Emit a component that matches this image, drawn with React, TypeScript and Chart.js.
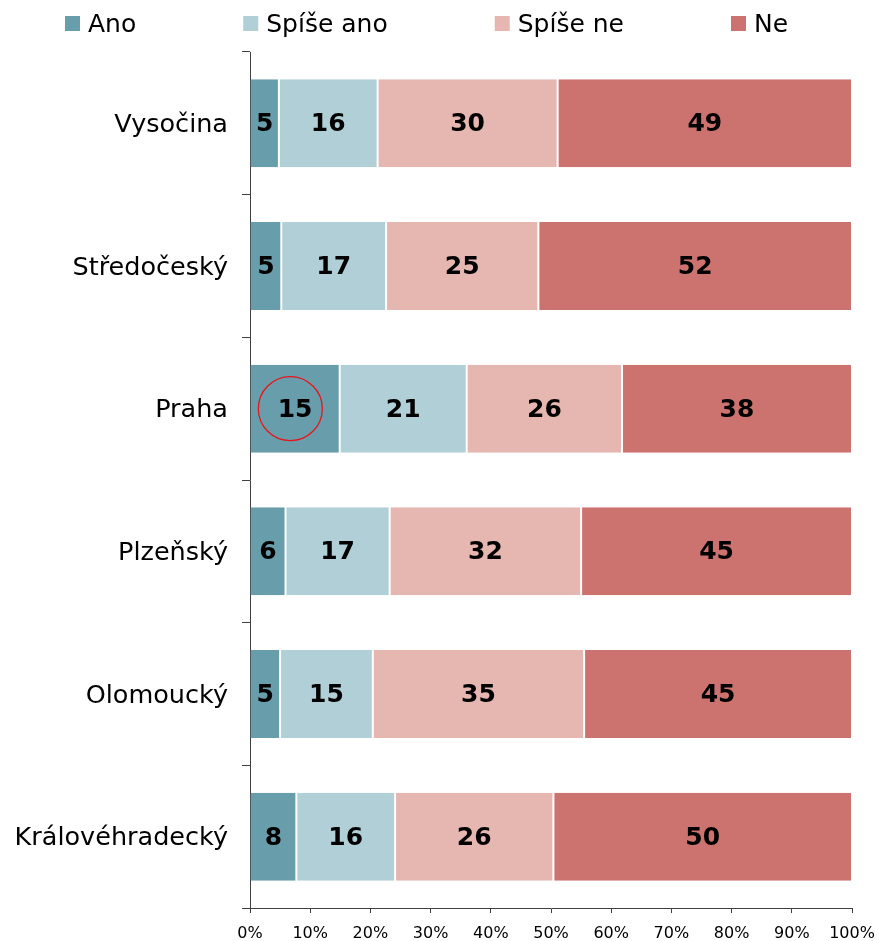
import React, { useEffect, useRef } from 'react';
import { Chart, registerables } from 'chart.js';

Chart.register(...registerables);

const categories = ['Vysočina', 'Středočeský', 'Praha', 'Plzeňský', 'Olomoucký', 'Královéhradecký'];
const seriesNames = ['Ano', 'Spíše ano', 'Spíše ne', 'Ne'];
const ano = [4.8, 5.2, 14.9, 5.9, 5.0, 7.7];
const spiseAno = [16.4, 17.4, 21.1, 17.3, 15.4, 16.4];
const spiseNe = [29.9, 25.3, 25.8, 31.8, 35.1, 26.3];
const ne = [48.9, 52.1, 38.2, 45.0, 44.5, 49.6];
const seriesColors = ['#689EAB', '#B0CFD6', '#E6B6B0', '#CC736F'];
const xMin = 0;
const xMax = 100;
const xStep = 10;
const highlightCategory = 'Praha';
const highlightValue = 6.7;

const FONT = '"DejaVu Sans", Verdana, sans-serif';

const legendPlugin = {
  id: 'customLegend',
  afterDraw(chart: any) {
    const ctx = chart.ctx;
    ctx.save();
    ctx.font = `25px ${FONT}`;
    ctx.textBaseline = 'middle';
    ctx.textAlign = 'left';
    let x = 65;
    chart.data.datasets.forEach((ds: any) => {
      ctx.fillStyle = ds.backgroundColor;
      ctx.fillRect(x, 16, 15, 15);
      ctx.fillStyle = '#000';
      ctx.fillText(ds.label, x + 23, 25);
      x += 23 + ctx.measureText(ds.label).width + 107;
    });
    ctx.restore();
  },
};

const valueLabelPlugin = {
  id: 'valueLabels',
  afterDatasetsDraw(chart: any) {
    const ctx = chart.ctx;
    ctx.save();
    ctx.font = `bold 25px ${FONT}`;
    ctx.fillStyle = '#000';
    ctx.textAlign = 'center';
    ctx.textBaseline = 'middle';
    chart.data.datasets.forEach((ds: any, i: number) => {
      const meta = chart.getDatasetMeta(i);
      meta.data.forEach((el: any, j: number) => {
        const v = ds.data[j];
        const cx = (el.x + el.base) / 2;
        ctx.fillText(String(Math.round(v)), cx, el.y + 1.5);
      });
    });
    // highlight circle
    const xs = chart.scales.x;
    const ys = chart.scales.y;
    const idx = categories.indexOf(highlightCategory);
    const cx = xs.getPixelForValue(highlightValue);
    const cy = ys.getPixelForValue(idx);
    ctx.beginPath();
    ctx.strokeStyle = '#E8141B';
    ctx.lineWidth = 1.3;
    ctx.arc(cx, cy, 32, 0, Math.PI * 2);
    ctx.stroke();
    ctx.restore();
  },
};

export default function App() {
  const ref = useRef<HTMLCanvasElement>(null);
  useEffect(() => {
    document.body.style.margin = '0';
    const values = [ano, spiseAno, spiseNe, ne];
    const chart = new Chart(ref.current as HTMLCanvasElement, {
      type: 'bar',
      data: {
        labels: categories,
        datasets: seriesNames.map((name, i) => ({
          label: name,
          data: values[i],
          backgroundColor: seriesColors[i],
          borderColor: '#ffffff',
          borderWidth: i === 0 ? { left: 0, right: 1, top: 0, bottom: 0 } : { left: 1, right: 1, top: 0, bottom: 0 },
          borderSkipped: false,
          barPercentage: 1,
          categoryPercentage: 0.617,
        })),
      },
      options: {
        indexAxis: 'y',
        animation: false,
        responsive: false,
        events: [],
        layout: { padding: { top: 52, right: 27, bottom: 0, left: 0 } },
        plugins: {
          legend: { display: false },
          tooltip: { enabled: false },
        },
        scales: {
          x: {
            stacked: true,
            min: xMin,
            max: xMax,
            afterFit: (s: any) => {
              s.height = 33;
              s.paddingLeft = 0;
              s.paddingRight = 0;
              s.paddingTop = 0;
              s.paddingBottom = 0;
            },
            ticks: {
              stepSize: xStep,
              callback: (v: any) => `${v}%`,
              font: { family: FONT, size: 16 },
              color: '#000',
              padding: 11,
              maxRotation: 0,
            },
            grid: { drawOnChartArea: false, drawTicks: true, tickLength: 5, color: '#404040' },
            border: { display: true, color: '#404040' },
          },
          y: {
            stacked: true,
            z: 1,
            afterFit: (s: any) => {
              s.width = 250;
              s.paddingLeft = 0;
              s.paddingRight = 0;
              s.paddingTop = 0;
              s.paddingBottom = 0;
            },
            ticks: {
              font: { family: FONT, size: 25.5 },
              color: '#000',
              padding: 14,
              labelOffset: 2,
            },
            grid: { drawOnChartArea: false, drawTicks: true, tickLength: 8, offset: true, color: '#404040' },
            border: { display: true, color: '#404040' },
          },
        },
      } as any,
      plugins: [legendPlugin, valueLabelPlugin],
    });
    return () => chart.destroy();
  }, []);
  return (
    <div style={{ width: 879, height: 941 }}>
      <canvas ref={ref} width={879} height={941} style={{ display: 'block' }} />
    </div>
  );
}
